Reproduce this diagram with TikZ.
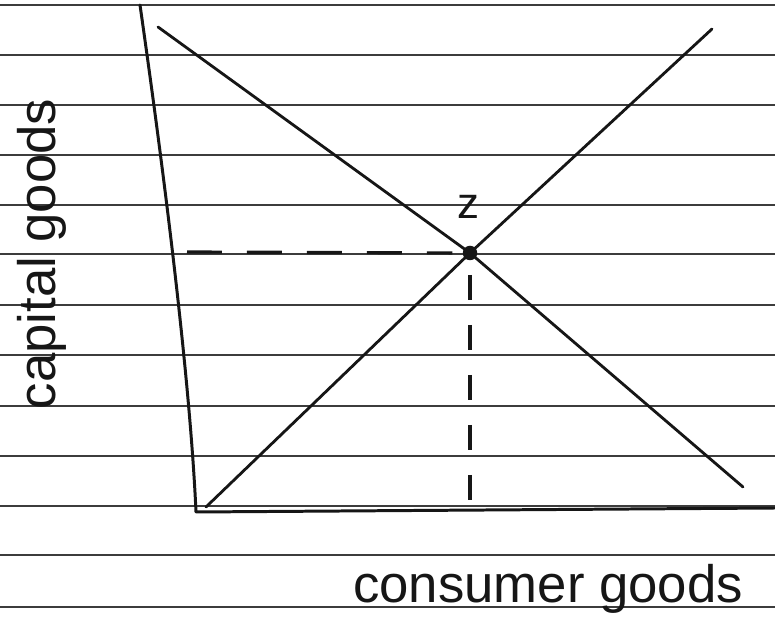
\documentclass[tikz,border=0pt]{standalone}
\usepackage{fontspec}
\setmainfont{Liberation Sans}
\usepackage{xcolor}
\usepackage{tikz}
\usetikzlibrary{calc,positioning}
\definecolor{inkblack}{HTML}{161616}
\definecolor{rulegray}{HTML}{3C3C3C}
\tikzset{
  ruleline/.style={rulegray, line width=1.1pt},
  axisline/.style={inkblack, line width=1.7pt, line cap=round, line join=round},
  curveline/.style={inkblack, line width=1.6pt, line cap=round, line join=round},
  guide/.style={inkblack, line width=1.8pt, dash pattern=on 0.7cm off 0.5cm},
  vguide/.style={inkblack, line width=1.8pt, dash pattern=on 0.5cm off 0.5cm},
  point/.style={circle, fill=inkblack, inner sep=0pt, minimum size=0.29cm},
  labelnode/.style={inkblack, inner sep=0pt, font=\fontsize{30}{30}\selectfont},
  smalllabel/.style={inkblack, inner sep=0pt, font=\fontsize{25}{25}\selectfont}
}

\begin{document}
\begin{tikzpicture}[x=0.02cm, y=-0.02cm]
  \useasboundingbox (0,0) rectangle (775,641);
  % lined paper
  \foreach \y in {5,55,105,155,205,254,305,355,406,456,506,555,607}{
    \draw[ruleline] (0,\y) -- (775,\y);
  }
  % axes
  \coordinate (ytop) at (140,5);
  \coordinate (origin) at (196,512);
  \coordinate (xend) at (775,508);
  \draw[axisline] (ytop) .. controls (165,180) and (190,380) .. (origin) -- (xend);
  % the two lines and where they cross
  \node[point] (eq) at (470,253) {};
  \coordinate (fallstart) at (158,27);
  \coordinate (fallend) at (743,487);
  \coordinate (risestart) at (206,507);
  \coordinate (riseend) at (712,29);
  \draw[curveline] (fallstart) -- (eq.center) -- (fallend);
  \draw[curveline] (risestart) -- (eq.center) -- (riseend);
  \node[smalllabel] (zlabel) at (468,207) {z};
  % guides to the axes
  \coordinate (dashstart) at (187,252);
  \draw[guide, shorten >=0.2cm] (dashstart) -- (eq);
  \draw[vguide, shorten <=0.44cm, shorten >=0.2cm] (eq.center) -- (eq |- origin);
  % axis labels
  \node[labelnode, anchor=base] (xlabel) at (548,603) {consumer goods};
  \node[labelnode, rotate=90] (ylabel) at (42,254) {capital goods};
\end{tikzpicture}
\end{document}
